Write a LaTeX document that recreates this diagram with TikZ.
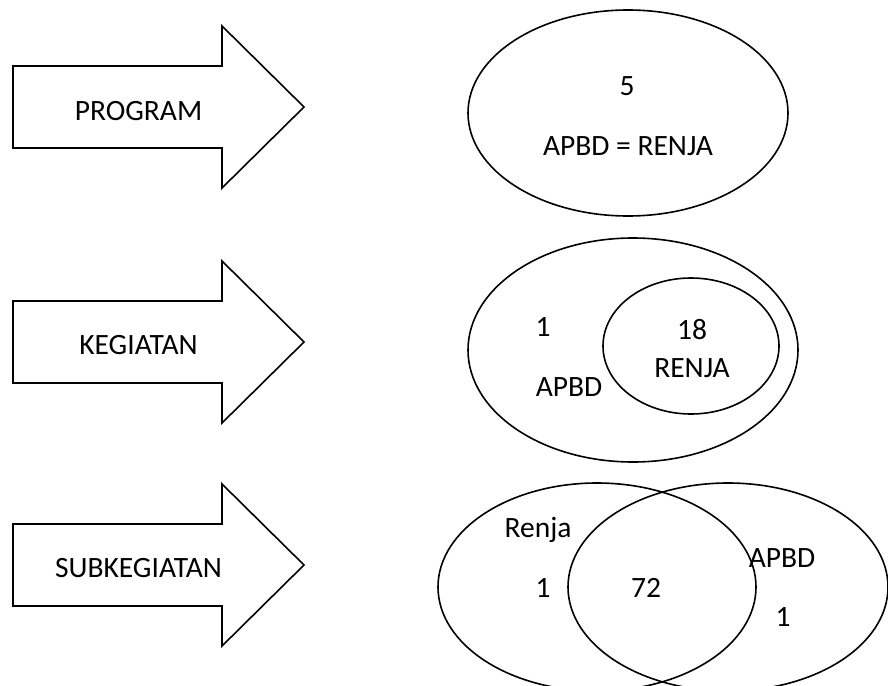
\documentclass[tikz,border=0pt]{standalone}
\usepackage{fontspec}
\setmainfont{Carlito}
\begin{document}
\begin{tikzpicture}[x=1pt,y=-1pt,
  outline/.style={draw=black,line width=1.6pt,line join=miter},
  lbl/.style={anchor=base,inner sep=0pt,font=\fontsize{29.5}{31}\selectfont}]
\useasboundingbox (0,0) rectangle (888,685);
\clip (0,0) rectangle (888,685);
% block arrows, centred on a given height
\newcommand{\blockarrow}[1]{%
  \draw[outline] (13,#1-41) -- (222,#1-41) -- (222,#1-81) -- (304,#1)
    -- (222,#1+81) -- (222,#1+41) -- (13,#1+41) -- cycle;}
\blockarrow{107}
\blockarrow{342}
\blockarrow{565}
\node[lbl] (tprog) at (138.5,120) {PROGRAM};
\node[lbl] (tkeg) at (138.5,354) {KEGIATAN};
\node[lbl] (tsub) at (138.5,577) {SUBKEGIATAN};
% program: one set
\draw[outline] (628,113) ellipse [x radius=160pt, y radius=103pt];
\node[lbl] (p5) at (627,95) {5};
\node[lbl] (peq) at (628,155) {APBD = RENJA};
% kegiatan: RENJA inside APBD
\draw[outline] (633,350) ellipse [x radius=165pt, y radius=112pt];
\draw[outline] (691,346) ellipse [x radius=88pt, y radius=68pt];
\node[lbl] (k1) at (543,336) {1};
\node[lbl] (kapbd) at (569,396) {APBD};
\node[lbl] (k18) at (692,339) {18};
\node[lbl] (krenja) at (692,377) {RENJA};
% subkegiatan: overlapping sets
\draw[outline] (597,587) ellipse [x radius=159pt, y radius=104pt];
\draw[outline] (728,587) ellipse [x radius=160pt, y radius=104pt];
\node[lbl] (srenja) at (538,537) {Renja};
\node[lbl] (s1a) at (543,597) {1};
\node[lbl] (s72) at (646,597) {72};
\node[lbl] (sapbd) at (782,567) {APBD};
\node[lbl] (s1b) at (783,626) {1};
\end{tikzpicture}
\end{document}
